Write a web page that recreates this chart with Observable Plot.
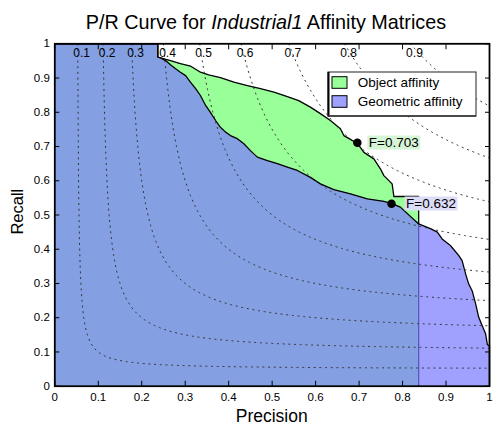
<!DOCTYPE html>
<html><head><meta charset="utf-8">
<script src="https://cdn.jsdelivr.net/npm/d3@7"></script>
<script src="https://cdn.jsdelivr.net/npm/@observablehq/plot@0.6"></script>
<style>
body{margin:0;background:#fff;}
svg{display:block}
</style>
</head><body>
<script>
// ---- data ----
const objPrecision = [0, 0.237, 0.237, 0.243, 0.266, 0.289, 0.312, 0.335, 0.354, 0.381, 0.412, 0.443, 0.473, 0.504, 0.535, 0.561, 0.588, 0.611, 0.634, 0.657, 0.665, 0.684, 0.696, 0.711, 0.734, 0.749, 0.757, 0.776, 0.780, 0.837, 0.837];
const objRecall    = [1, 1, 0.961, 0.959, 0.951, 0.942, 0.935, 0.917, 0.909, 0.901, 0.888, 0.878, 0.869, 0.859, 0.846, 0.834, 0.815, 0.796, 0.776, 0.752, 0.732, 0.718, 0.710, 0.683, 0.664, 0.635, 0.615, 0.591, 0.554, 0.554, 0];
const geoPrecision = [0, 0.237, 0.237, 0.243, 0.255, 0.266, 0.278, 0.289, 0.301, 0.312, 0.324, 0.335, 0.347, 0.358, 0.370, 0.381, 0.393, 0.404, 0.420, 0.435, 0.450, 0.466, 0.489, 0.512, 0.535, 0.558, 0.588, 0.611, 0.642, 0.680, 0.719, 0.757, 0.776, 0.795, 0.837, 0.864, 0.880, 0.891, 0.910, 0.929, 0.937, 0.945, 0.952, 0.960, 0.968, 0.975, 0.983, 0.991, 0.995, 0.998, 1, 1];
const geoRecall    = [1, 1, 0.961, 0.959, 0.951, 0.939, 0.927, 0.917, 0.907, 0.888, 0.869, 0.849, 0.820, 0.800, 0.776, 0.756, 0.742, 0.732, 0.723, 0.708, 0.688, 0.669, 0.659, 0.650, 0.640, 0.630, 0.610, 0.591, 0.574, 0.562, 0.547, 0.540, 0.533, 0.523, 0.474, 0.460, 0.450, 0.430, 0.411, 0.382, 0.367, 0.328, 0.299, 0.279, 0.241, 0.202, 0.177, 0.153, 0.122, 0.119, 0.119, 0];
const fLevels = [0.1, 0.2, 0.3, 0.4, 0.5, 0.6, 0.7, 0.8, 0.9];
const fLevelLabels = ["0.1", "0.2", "0.3", "0.4", "0.5", "0.6", "0.7", "0.8", "0.9"];
const bestPrecision = [0.696, 0.7746];
const bestRecall = [0.711, 0.533];
const bestLabels = ["F=0.703", "F=0.632"];
const xTicks = [0, 0.1, 0.2, 0.3, 0.4, 0.5, 0.6, 0.7, 0.8, 0.9, 1];
const yTicks = [0, 0.1, 0.2, 0.3, 0.4, 0.5, 0.6, 0.7, 0.8, 0.9, 1];
const seriesNames = ["Object affinity", "Geometric affinity"];

// ---- styles ----
const FONT = "'Liberation Sans', Arial, Helvetica, sans-serif";
const GREEN = "#99ff99";
const BLUE = "#7b7bff";
const BLUE_OPACITY = 0.72;
const labelBg = ["#d6f5d6", "#dcdcf6"];
const labelDx = [11.5, 14.5];

// ---- tables ----
const obj = objPrecision.map((p, i) => ({p, r: objRecall[i]}));
const geo = geoPrecision.map((p, i) => ({p, r: geoRecall[i]}));
const best = bestPrecision.map((p, i) => ({p, r: bestRecall[i], label: bestLabels[i]}));
// iso-F contour reference lines: R = F*P/(2P - F)
const iso = fLevels.flatMap((f) => {
  const p0 = f / (2 - f);
  const ps = d3.range(p0, 1, 0.002).concat([1]);
  return ps.map((p) => ({f, p, r: f * p / (2 * p - f)}));
});
const isoLabels = fLevels.map((f, i) => ({p: f / (2 - f), r: 0.972, label: fLevelLabels[i]}));
const fmt = (d) => String(d);

const svg = Plot.plot({
  width: 494,
  height: 427,
  marginLeft: 54.3,
  marginRight: 5,
  marginTop: 43.3,
  marginBottom: 41.3,
  x: {domain: [0, 1]},
  y: {domain: [0, 1]},
  style: {fontFamily: FONT, fontSize: "11.5px", color: "black", background: "white"},
  marks: [
    Plot.areaY(obj, {x: "p", y1: 0, y2: "r", fill: GREEN}),
    Plot.line(obj, {x: "p", y: "r", stroke: "black", strokeWidth: 1.3}),
    Plot.areaY(geo, {x: "p", y1: 0, y2: "r", fill: BLUE, fillOpacity: BLUE_OPACITY}),
    Plot.line(geo, {x: "p", y: "r", stroke: "black", strokeWidth: 1.3}),
    Plot.line(iso, {x: "p", y: "r", z: "f", stroke: "#333", strokeWidth: 1, strokeDasharray: "1.2 4.5"}),
    Plot.text(isoLabels, {x: "p", y: "r", text: "label", dx: 4, fontSize: 12, fill: "black"}),
    Plot.dot(best, {x: "p", y: "r", r: 3.5, fill: "black", stroke: "black"}),
    ...best.map((d, i) => Plot.text([d], {x: "p", y: "r", text: "label", dx: labelDx[i], textAnchor: "start", fontSize: 13.5, fill: "black"})),
    Plot.axisX(xTicks, {anchor: "bottom", tickSize: -5, fill: "none", label: null}),
    Plot.axisX(xTicks, {anchor: "top", tickSize: -5, fill: "none", label: null}),
    Plot.axisX(xTicks, {anchor: "bottom", tickSize: 0, tickPadding: 7, tickFormat: fmt, label: null}),
    Plot.axisY(yTicks, {anchor: "left", tickSize: -5, fill: "none", label: null}),
    Plot.axisY(yTicks, {anchor: "right", tickSize: -5, fill: "none", label: null}),
    Plot.axisY(yTicks, {anchor: "left", tickSize: 0, tickPadding: 5, tickFormat: fmt, label: null}),
    Plot.frame({stroke: "black", strokeWidth: 1.8})
  ]
});
document.body.append(svg);
const s = d3.select(svg);

// backgrounds for the F labels
s.selectAll("text").each(function() {
  const idx = bestLabels.indexOf(this.textContent);
  if (idx < 0) return;
  const b = this.getBBox();
  const rect = document.createElementNS("http://www.w3.org/2000/svg", "rect");
  rect.setAttribute("x", b.x - 1.5);
  rect.setAttribute("y", b.y + 0.5);
  rect.setAttribute("width", b.width + 3);
  rect.setAttribute("height", b.height - 1);
  rect.setAttribute("fill", labelBg[idx]);
  const tr = this.getAttribute("transform");
  if (tr) rect.setAttribute("transform", tr);
  this.parentNode.insertBefore(rect, this);
});

// title
const t = s.append("text").attr("x", 266).attr("y", 29.3).attr("text-anchor", "middle")
  .style("font-family", FONT).style("font-size", "19.8px").attr("fill", "black");
t.append("tspan").text("P/R Curve for ");
t.append("tspan").attr("font-style", "italic").text("Industrial1");
t.append("tspan").text(" Affinity Matrices");

// axis titles
s.append("text").attr("x", 271.7).attr("y", 422).attr("text-anchor", "middle")
  .style("font-family", FONT).style("font-size", "17.5px").attr("fill", "black").text("Precision");
s.append("text").attr("transform", "translate(23.3,211.7) rotate(-90)").attr("text-anchor", "middle")
  .style("font-family", FONT).style("font-size", "16.5px").attr("fill", "black").text("Recall");

// legend
const lg = s.append("g").attr("text-anchor", "start");
lg.append("rect").attr("x", 328).attr("y", 72).attr("width", 148).attr("height", 44)
  .attr("fill", "white").attr("stroke", "#222").attr("stroke-width", 1);
lg.append("line").attr("x1", 328.5).attr("x2", 328.5).attr("y1", 72).attr("y2", 116.5).attr("stroke", "black").attr("stroke-width", 2);
lg.append("line").attr("x1", 328).attr("x2", 476).attr("y1", 116).attr("y2", 116).attr("stroke", "#333").attr("stroke-width", 1.6);
const swFill = [GREEN, BLUE];
const swOpacity = [1, BLUE_OPACITY];
seriesNames.forEach((name, i) => {
  const cy = 82.5 + i * 19;
  lg.append("rect").attr("x", 332).attr("y", cy - 5.8).attr("width", 15).attr("height", 11.6)
    .attr("fill", swFill[i]).attr("fill-opacity", swOpacity[i]).attr("stroke", "black").attr("stroke-width", 1);
  lg.append("text").attr("x", 357.7).attr("y", cy).attr("dy", "0.35em").attr("text-anchor", "start")
    .style("font-family", FONT).style("font-size", "13.5px").attr("fill", "black").text(name);
});
</script>
</body></html>
